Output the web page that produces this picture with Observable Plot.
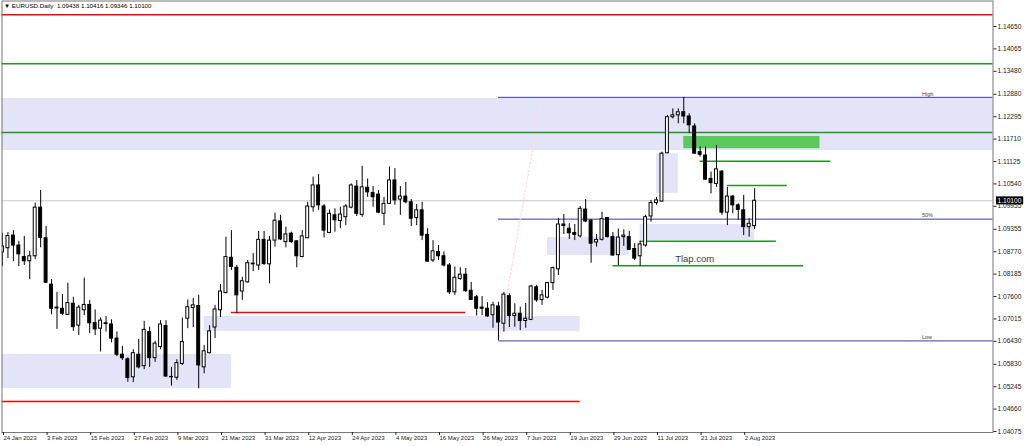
<!DOCTYPE html>
<html><head><meta charset="utf-8">
<script src="https://cdn.jsdelivr.net/npm/d3@7"></script>
<script src="https://cdn.jsdelivr.net/npm/@observablehq/plot@0.6"></script>
<style>body{margin:0;background:#fff;}svg{display:block;}</style>
</head><body><div id="chart"></div>
<script>
const symbol = "EURUSD.Daily";
const firstDate = "2023-01-24";
const opens = [1.0875,1.0886,1.0919,1.0893,1.0863,1.0852,1.0865,1.0992,1.0912,1.0791,1.0731,1.0728,1.0712,1.0741,1.0684,1.0724,1.0738,1.0691,1.0676,1.0690,1.0687,1.0650,1.0608,1.0596,1.0549,1.0608,1.0578,1.0667,1.0599,1.0628,1.0683,1.0550,1.0548,1.0584,1.0702,1.0730,1.0735,1.0575,1.0612,1.0679,1.0724,1.0769,1.0861,1.0835,1.0773,1.0797,1.0844,1.0841,1.0908,1.0844,1.0906,1.0956,1.0902,1.0924,1.0904,1.0863,1.0912,1.0993,1.1050,1.0995,1.0926,1.0972,1.0957,1.0967,1.0992,1.1047,1.0973,1.1044,1.1030,1.1026,1.0976,1.1002,1.1063,1.1013,1.1021,1.1006,1.0965,1.0985,1.0921,1.0854,1.0876,1.0865,1.0841,1.0771,1.0806,1.0817,1.0775,1.0758,1.0731,1.0728,1.0711,1.0734,1.0689,1.0761,1.0709,1.0715,1.0696,1.0699,1.0784,1.0751,1.0757,1.0795,1.0831,1.0948,1.0937,1.0926,1.0917,1.0987,1.0958,1.0901,1.0908,1.0965,1.0915,1.0868,1.0915,1.0915,1.0884,1.0865,1.0893,1.0969,1.1004,1.1008,1.1134,1.1228,1.1233,1.1241,1.1230,1.1204,1.1137,1.1128,1.1067,1.1054,1.1086,1.0979,1.1021,1.0998,1.0985,1.0941,1.09438];
const highs = [1.0925,1.0927,1.0932,1.0904,1.0917,1.0878,1.1004,1.1037,1.0943,1.0804,1.0771,1.0765,1.0795,1.0758,1.0737,1.0808,1.0750,1.0725,1.0704,1.0708,1.0699,1.0667,1.0630,1.0600,1.0621,1.0648,1.0695,1.0680,1.0643,1.0697,1.0697,1.0575,1.0595,1.0704,1.0751,1.0755,1.0763,1.0632,1.0684,1.0737,1.0791,1.0915,1.0932,1.0841,1.0810,1.0854,1.0872,1.0930,1.0930,1.0917,1.0978,1.0972,1.0941,1.0928,1.0906,1.0932,1.1006,1.1072,1.1079,1.1000,1.0986,1.0989,1.0993,1.1000,1.1054,1.1063,1.1100,1.1067,1.1047,1.1037,1.1019,1.1098,1.1094,1.1047,1.1058,1.1013,1.1000,1.1006,1.0937,1.0906,1.0893,1.0876,1.0846,1.0837,1.0835,1.0833,1.0797,1.0763,1.0760,1.0744,1.0745,1.0745,1.0771,1.0767,1.0741,1.0732,1.0742,1.0789,1.0789,1.0776,1.0797,1.0837,1.0964,1.0974,1.0950,1.0948,1.0995,1.1013,1.0961,1.0922,1.0980,1.0966,1.0927,1.0936,1.0934,1.0930,1.0898,1.0904,1.0972,1.1011,1.1019,1.1137,1.1233,1.1250,1.1250,1.1280,1.1237,1.1211,1.1150,1.1150,1.1085,1.1154,1.1089,1.1045,1.1024,1.1002,1.1024,1.0963,1.10416];
const lows = [1.0838,1.0859,1.0851,1.0838,1.0841,1.0804,1.0856,1.0887,1.0794,1.0712,1.0674,1.0710,1.0710,1.0669,1.0658,1.0710,1.0663,1.0658,1.0615,1.0667,1.0639,1.0603,1.0593,1.0536,1.0535,1.0571,1.0569,1.0575,1.0588,1.0621,1.0549,1.0526,1.0541,1.0580,1.0676,1.0679,1.0519,1.0558,1.0610,1.0650,1.0705,1.0767,1.0828,1.0716,1.0750,1.0795,1.0825,1.0828,1.0841,1.0793,1.0889,1.0906,1.0887,1.0899,1.0835,1.0861,1.0912,1.0980,1.0985,1.0913,1.0924,1.0928,1.0937,1.0945,1.0989,1.0969,1.0967,1.1019,1.0993,1.0976,1.0945,1.1000,1.0998,1.0972,1.1002,1.0943,1.0945,1.0906,1.0850,1.0849,1.0854,1.0837,1.0765,1.0763,1.0802,1.0771,1.0750,1.0709,1.0710,1.0706,1.0677,1.0644,1.0667,1.0679,1.0680,1.0671,1.0677,1.0697,1.0745,1.0737,1.0754,1.0776,1.0815,1.0922,1.0909,1.0906,1.0913,1.0953,1.0847,1.0889,1.0905,1.0913,1.0865,1.0841,1.0891,1.0880,1.0854,1.0838,1.0889,1.0954,1.0998,1.1006,1.1133,1.1224,1.1211,1.1211,1.1185,1.1131,1.1124,1.1063,1.1028,1.1045,1.0972,1.0945,1.0976,1.0959,1.0919,1.0915,1.09346];
const closes = [1.0891,1.0918,1.0893,1.0870,1.0852,1.0865,1.0992,1.0913,1.0796,1.0728,1.0729,1.0715,1.0743,1.0680,1.0731,1.0738,1.0690,1.0674,1.0697,1.0688,1.0650,1.0608,1.0599,1.0547,1.0612,1.0575,1.0673,1.0599,1.0637,1.0687,1.0551,1.0549,1.0586,1.0641,1.0732,1.0737,1.0580,1.0617,1.0669,1.0726,1.0773,1.0863,1.0837,1.0763,1.0800,1.0847,1.0846,1.0908,1.0845,1.0906,1.0958,1.0909,1.0922,1.0902,1.0865,1.0917,1.0995,1.1050,1.0998,1.0932,1.0976,1.0959,1.0974,1.0995,1.1050,1.0976,1.1045,1.1032,1.1019,1.0979,1.1002,1.1063,1.1011,1.1021,1.1006,1.0963,1.0985,1.0919,1.0851,1.0878,1.0865,1.0841,1.0771,1.0809,1.0817,1.0774,1.0751,1.0728,1.0728,1.0708,1.0737,1.0692,1.0765,1.0709,1.0715,1.0696,1.0702,1.0786,1.0750,1.0763,1.0795,1.0834,1.0948,1.0944,1.0925,1.0921,1.0989,1.0956,1.0898,1.0908,1.0962,1.0915,1.0867,1.0914,1.0919,1.0882,1.0859,1.0896,1.0967,1.1004,1.1011,1.1133,1.1228,1.1233,1.1241,1.1230,1.1207,1.1133,1.1130,1.1065,1.1056,1.1092,1.0979,1.1021,1.0998,1.0986,1.0941,1.0950,1.10100];

const dateTickLabels = ["24 Jan 2023","3 Feb 2023","15 Feb 2023","27 Feb 2023","9 Mar 2023","21 Mar 2023","31 Mar 2023","12 Apr 2023","24 Apr 2023","4 May 2023","16 May 2023","26 May 2023","7 Jun 2023","19 Jun 2023","29 Jun 2023","11 Jul 2023","21 Jul 2023","2 Aug 2023"];
const priceTicks = [1.04075,1.04660,1.05245,1.05830,1.06430,1.07015,1.07600,1.08185,1.08770,1.09355,1.09955,1.10540,1.11125,1.11710,1.12295,1.12880,1.13480,1.14065,1.14650];

// drawn objects (price levels and zones)
const redLevels = [1.1496];
const greenLevels = [1.1368, 1.1188];
const wideZone = [{top: 1.1277, bottom: 1.1141}];
const redSegments = [
  {price: 1.0718, from: "2023-03-23", to: "2023-05-23"},
  {price: 1.0486, from: "2023-01-16", to: "2023-06-21"}
];
const greenSegments = [
  {price: 1.1113, from: "2023-07-21", to: "2023-08-24"},
  {price: 1.1050, from: "2023-07-28", to: "2023-08-14"},
  {price: 1.0904, from: "2023-07-06", to: "2023-08-10"},
  {price: 1.0840, from: "2023-06-29", to: "2023-08-17"}
];
const zones = [
  {top: 1.0609, bottom: 1.0520, from: "2023-01-16", to: "2023-03-23"},
  {top: 1.0708, bottom: 1.0669, from: "2023-03-16", to: "2023-06-21"},
  {top: 1.0914, bottom: 1.0867, from: "2023-06-13", to: "2023-07-04"},
  {top: 1.0948, bottom: 1.0906, from: "2023-07-06", to: "2023-08-04"},
  {top: 1.1133, bottom: 1.1029, from: "2023-07-11", to: "2023-07-17"}
];
const greenZones = [{top: 1.1178, bottom: 1.1146, from: "2023-07-18", to: "2023-08-22"}];
const fib = {lowDate: "2023-05-31", low: 1.0644, highDate: "2023-06-12", high: 1.1280};
const fibRatios = [1, 0.5, 0];
const fibLabels = ["High", "50%", "Low"];
const watermark = {text: "Tlap.com", date: "2023-07-20", price: 1.0857};

// trading-day index helpers
const DAY = 86400000;
const start = new Date(firstDate + "T00:00:00Z");
function tradingIndex(str) {
  const target = new Date(str + "T00:00:00Z").getTime();
  let n = 0, cur = start.getTime();
  const step = target >= cur ? 1 : -1;
  while (cur !== target) {
    cur += step * DAY;
    const wd = new Date(cur).getUTCDay();
    if (wd !== 0 && wd !== 6) n += step;
  }
  return n;
}
const dates = [];
{ let cur = start.getTime(); while (dates.length < opens.length) { const d = new Date(cur); const wd = d.getUTCDay(); if (wd !== 0 && wd !== 6) dates.push(d); cur += DAY; } }
const fmtDate = d3.utcFormat("%-d %b %Y");
const candles = dates.map((d, i) => ({i, date: d, open: opens[i], high: highs[i], low: lows[i], close: closes[i]}));
const xTicks = candles.filter(c => dateTickLabels.includes(fmtDate(c.date))).map(c => c.i);
const last = candles[candles.length - 1];
const header = `\u25BC ${symbol}  ${last.open.toFixed(5)} ${last.high.toFixed(5)} ${last.low.toFixed(5)} ${last.close.toFixed(5)}`;
const fibStart = tradingIndex(fib.lowDate);
const fibRows = fibRatios.map((r, k) => ({price: fib.low + (fib.high - fib.low) * r, label: fibLabels[k]}));

const lavender = "#e4e4f8";
const green = "#259225";
const chart = Plot.plot({
  width: 1024, height: 446,
  marginLeft: 1.5, marginRight: 31.5, marginTop: 0.5, marginBottom: 14,
  x: {type: "linear", domain: [-0.09, 181.74]},
  y: {domain: [1.04049, 1.15316]},
  style: {fontFamily: "Liberation Sans, Arial, sans-serif", background: "#fff", overflow: "visible"},
  marks: [
    Plot.rect(wideZone, {y1: "bottom", y2: "top", fill: lavender}),
    Plot.rect(zones, {x1: d => tradingIndex(d.from), x2: d => tradingIndex(d.to), y1: "bottom", y2: "top", fill: lavender, clip: true}),
    Plot.rect(greenZones, {x1: d => tradingIndex(d.from), x2: d => tradingIndex(d.to), y1: "bottom", y2: "top", fill: "#5ac85a", clip: true}),
    Plot.ruleY([last.close], {stroke: "#c8c8c8"}),
    Plot.ruleY(fibRows, {y: "price", x1: fibStart, x2: 400, stroke: "#3c3c9c", clip: true}),
    Plot.line([{x: tradingIndex(fib.lowDate), y: fib.low}, {x: tradingIndex(fib.highDate), y: fib.high}], {x: "x", y: "y", stroke: "#ffdce4", strokeDasharray: "1.5,2.5", clip: true}),
    Plot.text(fibRows, {y: "price", text: "label", frameAnchor: "right", textAnchor: "start", dx: -71, dy: -3.5, fontSize: 5.5, fill: "#404060"}),
    Plot.ruleY(redLevels, {stroke: "#ff0000", strokeWidth: 1.5}),
    Plot.ruleY(greenLevels, {stroke: green, strokeWidth: 1.5}),
    Plot.ruleY(redSegments, {y: "price", x1: d => tradingIndex(d.from), x2: d => tradingIndex(d.to), stroke: "#ff0000", strokeWidth: 1.5, clip: true}),
    Plot.ruleY(greenSegments, {y: "price", x1: d => tradingIndex(d.from), x2: d => tradingIndex(d.to), stroke: green, strokeWidth: 1.5, clip: true}),
    Plot.ruleX(candles, {x: "i", y1: "low", y2: "high", stroke: "#000", strokeWidth: 1, clip: true}),
    Plot.rect(candles, {x1: d => d.i - 0.27, x2: d => d.i + 0.27, y1: "open", y2: "close", fill: d => d.close >= d.open ? "#fff" : "#000", stroke: "#000", strokeWidth: 1, clip: true}),
    Plot.text([watermark], {x: d => tradingIndex(d.date), y: "price", text: "text", fontSize: 9.5, fill: "#404040"}),
    Plot.text([header], {text: d => d, frameAnchor: "top-left", dx: 2, dy: 3, lineAnchor: "top", textAnchor: "start", fontSize: 6.2, fill: "#000"}),
    Plot.frame({stroke: "#777"}),
    Plot.axisY({anchor: "right", ticks: priceTicks, tickFormat: d => d.toFixed(5), tickSize: 3, tickPadding: 1.5, fontSize: 6.6, color: "#222"}),
    Plot.axisX({anchor: "bottom", ticks: xTicks, tickFormat: i => fmtDate(dates[i]), tickSize: 3, tickPadding: 0.5, textAnchor: "start", dx: 1, fontSize: 6, color: "#222"}),
    Plot.text([last.close], {y: d => d, text: d => d.toFixed(5), frameAnchor: "right", textAnchor: "start", dx: 4.5, fontSize: 6.6, fill: "#fff", className: "curprice"})
  ]
});
document.getElementById("chart").appendChild(chart);
// black background box behind the current-price label
const t = chart.querySelector(".curprice text");
if (t) {
  const bb = t.getBBox();
  const r = document.createElementNS("http://www.w3.org/2000/svg", "rect");
  r.setAttribute("x", bb.x - 1.5); r.setAttribute("y", bb.y - 0.5);
  r.setAttribute("width", bb.width + 3); r.setAttribute("height", bb.height + 1);
  r.setAttribute("fill", "#000");
  if (t.getAttribute("transform")) r.setAttribute("transform", t.getAttribute("transform"));
  t.parentNode.insertBefore(r, t);
}
</script>
</body></html>
